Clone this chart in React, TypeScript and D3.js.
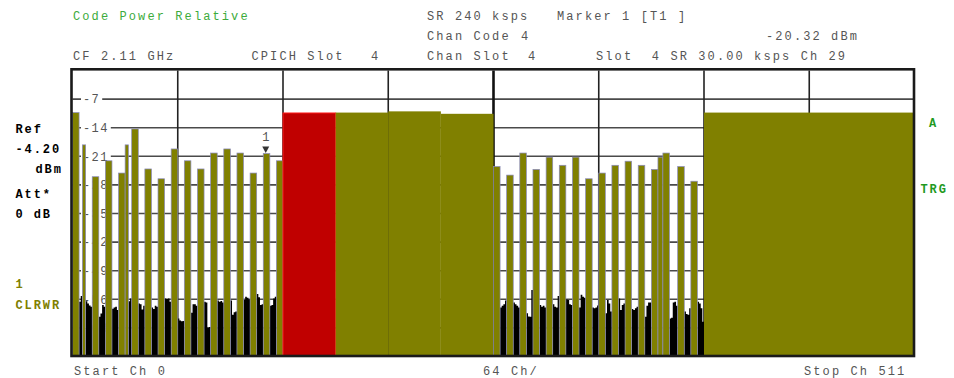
import React from "react";
import * as d3 from "d3";

// Code domain power: channel ranges (SF512 channel numbers) and relative power (dB)
const codeStart = [0, 6, 12, 20, 28, 32, 36, 44, 52, 60, 68, 76, 84, 92, 100, 108, 116, 124, 128, 160, 192, 224, 256, 264, 272, 280, 288, 296, 304, 312, 320, 328, 336, 344, 352, 356, 359, 368, 376, 384];
const codeEnd = [4, 8, 16, 24, 32, 34, 40, 48, 56, 64, 72, 80, 88, 96, 104, 112, 120, 128, 160, 192, 224, 256, 260, 268, 276, 284, 292, 300, 308, 316, 324, 332, 340, 348, 356, 359, 363, 372, 380, 512];
const codePower = [-10.3, -18.2, -26.0, -22.1, -25.1, -18.2, -14.3, -24.1, -26.5, -19.2, -22.1, -24.1, -20.2, -19.2, -20.2, -25.1, -20.32, -22.1, -10.4, -10.3, -10.0, -10.6, -23.5, -25.6, -20.2, -24.2, -21.2, -23.2, -21.2, -26.5, -25.1, -23.2, -22.2, -23.2, -24.2, -21.2, -20.2, -23.5, -27.1, -10.3];
const selectedCode = 18; // red CPICH-slot channel

// Noise floor in inactive channels
const noiseStart = [4, 8, 16, 24, 34, 40, 48, 56, 64, 72, 80, 88, 96, 104, 112, 120, 260, 268, 276, 284, 292, 300, 308, 316, 324, 332, 340, 348, 363, 372, 380];
const noiseValues = [
  [-56.6, -55.2],
  [-56.5, -57.0, -57.5, -57.8],
  [-60.3, -59.5, -57.4, -57.8],
  [-58.3, -58.0, -57.8, -58.6],
  [-56.5, -55.8],
  [-57.0, -57.2, -58.5, -57.6],
  [-58.0, -58.4, -57.6, -57.8],
  [-55.8, -55.9, -55.8, -56.6],
  [-60.7, -61.2, -61.4, -61.3],
  [-59.3, -57.2, -57.2, -57.6],
  [-56.6, -56.8, -63.0, -62.8],
  [-56.3, -56.6, -56.4, -56.8],
  [-56.3, -59.8, -59.2, -59.0],
  [-56.2, -55.4, -55.6, -56.0],
  [-54.7, -55.5, -57.4, -57.2],
  [-57.6, -57.4, -55.8, -55.4],
  [-58.0, -57.6, -57.2, -56.3],
  [-56.8, -57.2, -57.6, -58.0],
  [-59.4, -60.2, -60.3, -53.7],
  [-57.4, -57.8, -57.6, -58.0],
  [-57.2, -57.8, -58.0, -55.2],
  [-56.0, -56.2, -57.2, -57.4],
  [-58.0, -54.9, -55.4, -55.6],
  [-58.0, -58.2, -58.0, -57.5],
  [-59.4, -56.2, -57.0, -59.0],
  [-55.8, -58.6, -57.4, -57.0],
  [-58.4, -58.6, -58.2, -57.8],
  [-60.3, -57.6, -56.8, -56.8],
  [-60.7, -60.5, -56.8, -56.6, -57.6],
  [-59.0, -59.6, -59.8, -58.2],
  [-56.6, -57.0, -58.2, -61.5],
];

const yTicks = [-7, -14, -21, -28, -35, -42, -49, -56, -63];
const xGridCh = [64, 128, 192, 256, 320, 384, 448];
const markerChannel = 117.5;
const markerValue = -20.32;

const W = 954;
const H = 378;
const MONO = "'Liberation Mono', 'DejaVu Sans Mono', monospace";
const TXT = "#555555";
const OLIVE = "#808000";

export default function App() {
  const x = d3.scaleLinear().domain([0, 512]).range([72.5, 914.5]);
  const y = d3.scaleLinear().domain([0, -70]).range([70.5, 356.5]);

  const noiseArea = d3
    .area<[number, number]>()
    .x((d) => x(d[0]))
    .y0(y(-70))
    .y1((d) => y(d[1]))
    .curve(d3.curveStepAfter);

  const txt = (s: string, px: number, py: number, fill = TXT) => (
    <text
      x={px}
      y={py}
      fill={fill}
      fontFamily={MONO}
      fontSize={12}
      letterSpacing={2.1}
      style={{ whiteSpace: "pre" }}
    >
      {s}
    </text>
  );

  const bold = (s: string, px: number, py: number, fill = "#000") => (
    <text
      x={px}
      y={py}
      fill={fill}
      fontFamily={MONO}
      fontSize={12}
      fontWeight="bold"
      letterSpacing={1.9}
      style={{ whiteSpace: "pre" }}
    >
      {s}
    </text>
  );

  const mx = x(markerChannel);
  const my = y(markerValue);

  return (
    <svg
      width={W}
      height={H}
      style={{ position: "absolute", left: 0, top: 0, background: "#fff" }}
    >
      <rect x={0} y={0} width={W} height={H} fill="#fff" />

      {/* header */}
      {txt("Code Power Relative", 73, 19.5, "#3cab3c")}
      {txt("SR 240 ksps", 427, 19.5)}
      {txt("Marker 1 [T1 ]", 557, 19.5)}
      {txt("Chan Code", 427, 39.5)}
      {txt("4", 521, 39.5)}
      {txt("-20.32 dBm", 766, 39.5)}
      {txt("CF 2.11 GHz", 73, 59.5)}
      {txt("CPICH Slot", 251.5, 59.5)}
      {txt("4", 371, 59.5)}
      {txt("Chan Slot", 427, 59.5)}
      {txt("4", 528, 59.5)}
      {txt("Slot  4 SR 30.00 ksps Ch 29", 596, 59.5)}

      {/* left annotations */}
      {bold("Ref", 15.5, 132.5)}
      {bold("-4.20", 15.5, 152.5)}
      {bold("dBm", 35.5, 173.3)}
      {bold("Att*", 15.5, 198.3)}
      {bold("0 dB", 15.5, 218.3)}
      {bold("1", 15.5, 288.3, OLIVE)}
      {bold("CLRWR", 15.5, 309.3, OLIVE)}
      {bold("A", 929, 127.3, "#1f9a1f")}
      {bold("TRG", 920.5, 193.3, "#1f9a1f")}

      {/* horizontal grid */}
      {yTicks.map((t) => (
        <line
          key={"h" + t}
          x1={x(0)}
          x2={x(512)}
          y1={y(t)}
          y2={y(t)}
          stroke="#4a4a4a"
          strokeWidth={1.6}
        />
      ))}
      {/* vertical grid */}
      {xGridCh.map((c) => (
        <line
          key={"v" + c}
          x1={x(c)}
          x2={x(c)}
          y1={y(0)}
          y2={y(-70)}
          stroke={c === 256 ? "#111" : "#222"}
          strokeWidth={c === 256 ? 2.6 : 1.6}
        />
      ))}

      {/* y tick labels with white background */}
      {yTicks.map((t) => {
        const s = String(t);
        const w = s.length * 8.6 + 4;
        return (
          <g key={"l" + t}>
            <rect x={81} y={y(t) - 6} width={w} height={12} fill="#fff" />
            <text
              x={83}
              y={y(t)}
              dy="0.36em"
              fill={TXT}
              fontFamily={MONO}
              fontSize={12}
              letterSpacing={1.4}
            >
              {s}
            </text>
          </g>
        );
      })}

      {/* noise floor */}
      {noiseStart.map((s, i) => {
        const vals = noiseValues[i];
        const pts: [number, number][] = vals.map((v, k) => [s + k, v]);
        pts.push([s + vals.length, vals[vals.length - 1]]);
        return <path key={"n" + i} d={noiseArea(pts) || ""} fill="#000" />;
      })}

      {/* code bars */}
      {codeStart.map((s, i) => {
        const e = codeEnd[i];
        const v = codePower[i];
        const sel = i === selectedCode;
        const narrow = e - s < 10;
        return (
          <rect
            key={"b" + i}
            x={x(s)}
            y={y(v)}
            width={x(e) - x(s)}
            height={y(-70) - y(v)}
            fill={sel ? "#c00000" : OLIVE}
            stroke={sel ? "#ff1a1a" : narrow ? "#8a8abf" : "none"}
            strokeWidth={sel ? 1 : 0.7}
          />
        );
      })}

      {/* marker */}
      <path
        d={`M${mx - 3.5},${my - 7} L${mx + 3.5},${my - 7} L${mx},${my - 0.5} Z`}
        fill="#333"
      />
      <text
        x={mx}
        y={my - 12.5}
        textAnchor="middle"
        fill={TXT}
        fontFamily={MONO}
        fontSize={12}
      >
        1
      </text>

      {/* frame */}
      <rect
        x={71.5}
        y={69.3}
        width={842.5}
        height={286.7}
        fill="none"
        stroke="#1a1a1a"
        strokeWidth={2.6}
      />

      {/* bottom labels */}
      {txt("Start Ch 0", 74, 375)}
      {txt("64 Ch/", 483, 375)}
      {txt("Stop Ch 511", 804, 375)}
    </svg>
  );
}
